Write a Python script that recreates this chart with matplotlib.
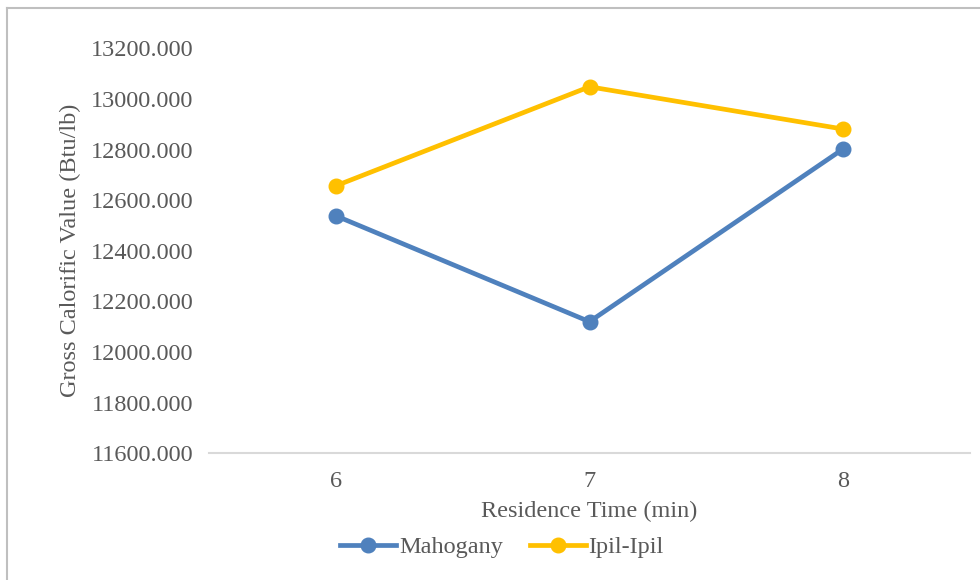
import matplotlib.pyplot as plt
from matplotlib.lines import Line2D

times = [6, 7, 8]
mahogany = [12538, 12120, 12802]
ipil_ipil = [12657, 13048, 12881]
yticks = [11600, 11800, 12000, 12200, 12400, 12600, 12800, 13000, 13200]

W, H = 980, 580
fig = plt.figure(figsize=(W / 100, H / 100), dpi=100)
plt.rcParams['font.family'] = ['Liberation Serif', 'DejaVu Serif']
grey = '#595959'
fs = 17.5

# outer chart border (only left and top edges visible in the crop)
fig.add_artist(Line2D([7 / W, 7 / W], [0, 1 - 8 / H], color='#bfbfbf', lw=1.5))
fig.add_artist(Line2D([7 / W, 1], [1 - 8 / H, 1 - 8 / H], color='#bfbfbf', lw=1.5))

ax = fig.add_axes([209.25 / W, (H - 453.3) / H, 760.5 / W, 405 / H])
ax.plot(times, mahogany, color='#4f81bd', lw=3.4, marker='o', ms=10.5, label='Mahogany')
ax.plot(times, ipil_ipil, color='#ffc000', lw=3.4, marker='o', ms=10.5, label='Ipil-Ipil')

ax.set_xlim(5.5, 8.5)
ax.set_ylim(11600, 13200)
ax.set_xticks(times)
ax.set_yticks(yticks)
ax.set_yticklabels([f'{v:.3f}' for v in yticks])
ax.tick_params(axis='both', length=0, labelsize=fs, colors=grey)
ax.tick_params(axis='y', pad=11.5)
ax.tick_params(axis='x', pad=13)
for s in ['top', 'right', 'left']:
    ax.spines[s].set_visible(False)
ax.spines['bottom'].set_color('#d9d9d9')
ax.spines['bottom'].set_linewidth(1.5)

ax.set_xlabel('Residence Time (min)', fontsize=fs, color=grey, labelpad=6)
ax.set_ylabel('Gross Calorific Value (Btu/lb)', fontsize=fs, color=grey, labelpad=7)

fig.legend(loc='center', bbox_to_anchor=(502 / W, 1 - 547 / H), ncol=2, frameon=False,
           fontsize=fs, labelcolor=grey, handlelength=2.3, handletextpad=0.12,
           columnspacing=1.1)

fig.savefig('out.png', dpi=100)
